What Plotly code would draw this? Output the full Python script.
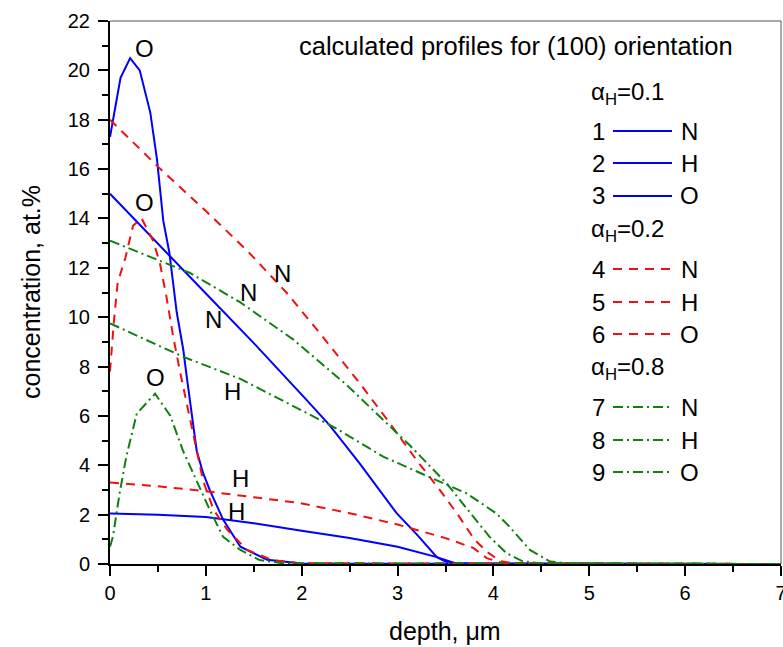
import plotly.graph_objects as go

# ---- data (depth in um, concentration in at.%) ----
n1_x = [0, 0.5, 0.94, 1.5, 1.84, 2.05, 2.29, 2.6, 2.99, 3.2, 3.41, 3.5, 3.6, 3.8, 7]
n1_y = [15, 13.0, 11.2, 8.95, 7.55, 6.65, 5.63, 4.1, 2.06, 1.2, 0.28, 0.1, 0.03, 0, 0]
h2_x = [0, 0.5, 1.0, 1.5, 2.0, 2.5, 3.0, 3.41, 3.6, 7]
h2_y = [2.05, 2.0, 1.9, 1.65, 1.35, 1.05, 0.7, 0.28, 0.03, 0]
o3_x = [0, 0.11, 0.21, 0.31, 0.42, 0.49, 0.556, 0.62, 0.696, 0.765, 0.80, 0.904, 0.97, 1.04, 1.18, 1.36, 1.64, 2.0, 7]
o3_y = [17.3, 19.7, 20.5, 20.0, 18.3, 16.4, 13.9, 12.6, 10.2, 8.67, 7.6, 4.6, 3.7, 3.0, 1.8, 0.7, 0.17, 0.02, 0]

n4_x = [0, 0.5, 1.0, 1.43, 1.84, 2.2, 2.6, 2.92, 3.2, 3.44, 3.62, 3.8, 3.93, 4.07, 4.25, 7]
n4_y = [18, 16.1, 14.3, 12.7, 11.0, 9.3, 7.35, 5.7, 4.2, 3.0, 2.05, 1.0, 0.5, 0.12, 0, 0]
h5_x = [0, 0.5, 1.04, 1.5, 1.98, 2.5, 3.0, 3.2, 3.5, 3.79, 3.93, 4.1, 7]
h5_y = [3.3, 3.15, 2.93, 2.7, 2.47, 2.06, 1.6, 1.38, 1.05, 0.65, 0.24, 0.03, 0]
o6_x = [0, 0.04, 0.08, 0.16, 0.24, 0.33, 0.45, 0.52, 0.59, 0.66, 0.73, 0.83, 0.9, 0.97, 1.08, 1.22, 1.43, 1.7, 2.0, 7]
o6_y = [7.8, 9.8, 11.4, 12.4, 13.7, 14.0, 13.1, 12.2, 10.8, 9.2, 7.8, 6.0, 4.6, 3.4, 2.2, 1.4, 0.57, 0.15, 0.03, 0]

n7_x = [0, 0.83, 1.36, 1.91, 2.47, 3.13, 3.51, 3.76, 3.96, 4.14, 4.3, 4.5, 7]
n7_y = [13.1, 11.8, 10.6, 9.1, 7.25, 4.8, 3.27, 2.05, 1.1, 0.43, 0.12, 0.02, 0]
h8_x = [0, 0.76, 1.36, 1.98, 2.33, 2.85, 3.48, 3.72, 4.03, 4.17, 4.38, 4.59, 4.8, 7]
h8_y = [9.75, 8.4, 7.5, 6.24, 5.56, 4.35, 3.27, 2.86, 2.05, 1.5, 0.57, 0.1, 0.02, 0]
o9_x = [0, 0.03, 0.10, 0.17, 0.28, 0.47, 0.63, 0.76, 0.9, 1.04, 1.18, 1.36, 1.56, 1.8, 7]
o9_y = [0.7, 1.1, 2.86, 4.35, 6.1, 6.9, 6.0, 4.6, 3.4, 2.2, 1.1, 0.57, 0.16, 0.03, 0]

curve_labels = ["O", "O", "N", "N", "N", "O", "H", "H", "H"]
label_x = [0.365, 0.365, 1.80, 1.44, 1.08, 0.47, 1.28, 1.36, 1.32]
label_y = [20.9, 14.63, 11.79, 10.98, 9.89, 7.54, 6.97, 3.48, 2.11]

group_titles = ["α<sub>H</sub>=0.1", "α<sub>H</sub>=0.2", "α<sub>H</sub>=0.8"]
legend_numbers = ["1", "2", "3", "4", "5", "6", "7", "8", "9"]
legend_elements = ["N", "H", "O", "N", "H", "O", "N", "H", "O"]

x_ticks = [0, 1, 2, 3, 4, 5, 6, 7]
y_ticks = [0, 2, 4, 6, 8, 10, 12, 14, 16, 18, 20, 22]

BLUE = "#0000ff"
RED = "#ee1111"
GREEN = "#108010"
DASH = "9px,7px"
DASHDOT = "10px,4px,2px,4px"
FONT = "Arial, Liberation Sans, sans-serif"

series = [
    (n1_x, n1_y, BLUE, "solid"), (h2_x, h2_y, BLUE, "solid"), (o3_x, o3_y, BLUE, "solid"),
    (n4_x, n4_y, RED, DASH), (h5_x, h5_y, RED, DASH), (o6_x, o6_y, RED, DASH),
    (n7_x, n7_y, GREEN, DASHDOT), (h8_x, h8_y, GREEN, DASHDOT), (o9_x, o9_y, GREEN, DASHDOT),
]

fig = go.Figure()
for xs, ys, col, dash in series:
    fig.add_trace(go.Scatter(x=xs, y=ys, mode="lines",
                             line=dict(color=col, width=2, dash=dash),
                             showlegend=False, hoverinfo="skip"))

# body margin is removed (post_script), so figure pixels == screen pixels;
# plot area at screen x 110..781, y 21..564
W, H = 783, 647
L, R, T, B = 110, 2, 21, 83
PW, PH = W - L - R, H - T - B
SX0, SY1 = 110, 564


def px(x):
    return (x - SX0) / PW


def py(y):
    return (SY1 - y) / PH


annotations = []
for t, x, y in zip(curve_labels, label_x, label_y):
    annotations.append(dict(x=x, y=y, xref="x", yref="y", text=t, showarrow=False,
                            xanchor="center", yanchor="middle",
                            font=dict(size=24, color="black", family=FONT)))

annotations.append(dict(x=px(297), y=py(46), xref="paper", yref="paper",
                        xanchor="left", yanchor="middle",
                        text="calculated profiles for (100) orientation", showarrow=False,
                        font=dict(size=25.5, color="black", family=FONT)))

title_rows = [93, 230, 368]
item_rows = [131, 163, 196, 269, 302, 334, 407, 440, 472]
for t, yy in zip(group_titles, title_rows):
    annotations.append(dict(x=px(589), y=py(yy), xref="paper", yref="paper",
                            xanchor="left", yanchor="middle",
                            text=t, showarrow=False,
                            font=dict(size=24, color="black", family=FONT)))

shapes = []
for i, (num, el, yy) in enumerate(zip(legend_numbers, legend_elements, item_rows)):
    col, dash = series[i][2], series[i][3]
    annotations.append(dict(x=px(598), y=py(yy), xref="paper", yref="paper",
                            xanchor="center", yanchor="middle",
                            text=num, showarrow=False,
                            font=dict(size=24, color="black", family=FONT)))
    annotations.append(dict(x=px(689), y=py(yy), xref="paper", yref="paper",
                            xanchor="center", yanchor="middle",
                            text=el, showarrow=False,
                            font=dict(size=24, color="black", family=FONT)))
    shapes.append(dict(type="line", xref="paper", yref="paper",
                       x0=px(613), x1=px(672), y0=py(yy), y1=py(yy),
                       line=dict(color=col, width=2, dash=dash)))

# axis titles
annotations.append(dict(x=px(445), y=py(631), xref="paper", yref="paper",
                        xanchor="center", yanchor="middle",
                        text="depth, μm", showarrow=False,
                        font=dict(size=25, color="black", family=FONT)))
annotations.append(dict(x=px(31), y=py(292), xref="paper", yref="paper",
                        xanchor="center", yanchor="middle",
                        text="concentration, at.%", showarrow=False, textangle=-90,
                        font=dict(size=25, color="black", family=FONT)))

# thin frame on top and right
shapes.append(dict(type="line", xref="paper", yref="paper", x0=0, x1=1, y0=1, y1=1,
                   line=dict(color="#555555", width=1)))
shapes.append(dict(type="line", xref="paper", yref="paper", x0=1, x1=1, y0=0, y1=1,
                   line=dict(color="#555555", width=1)))

fig.update_layout(
    width=W, height=H,
    margin=dict(l=L, r=R, t=T, b=B, autoexpand=False),
    paper_bgcolor="white", plot_bgcolor="white",
    font=dict(family=FONT, size=17, color="black"),
    annotations=annotations, shapes=shapes,
    showlegend=False,
)
fig.update_xaxes(range=[0, 7], tickvals=x_ticks, ticks="outside", ticklen=10, tickwidth=2,
                 tickcolor="black", showline=True, linecolor="black", linewidth=2,
                 showgrid=False, zeroline=False, automargin=False,
                 ticklabeloverflow="allow",
                 minor=dict(dtick=0.5, ticks="outside", ticklen=6, tickwidth=2, tickcolor="black"),
                 tickfont=dict(size=20), ticklabelstandoff=0)
fig.update_yaxes(range=[0, 22], tickvals=y_ticks, ticks="outside", ticklen=10, tickwidth=2,
                 tickcolor="black", showline=True, linecolor="black", linewidth=2,
                 showgrid=False, zeroline=False, automargin=False,
                 minor=dict(dtick=1, ticks="outside", ticklen=6, tickwidth=2, tickcolor="black"),
                 tickfont=dict(size=20), ticklabelstandoff=4)

fig.write_html("out.html", config={"displayModeBar": False},
               post_script="document.body.style.margin='0';document.documentElement.style.margin='0';")
